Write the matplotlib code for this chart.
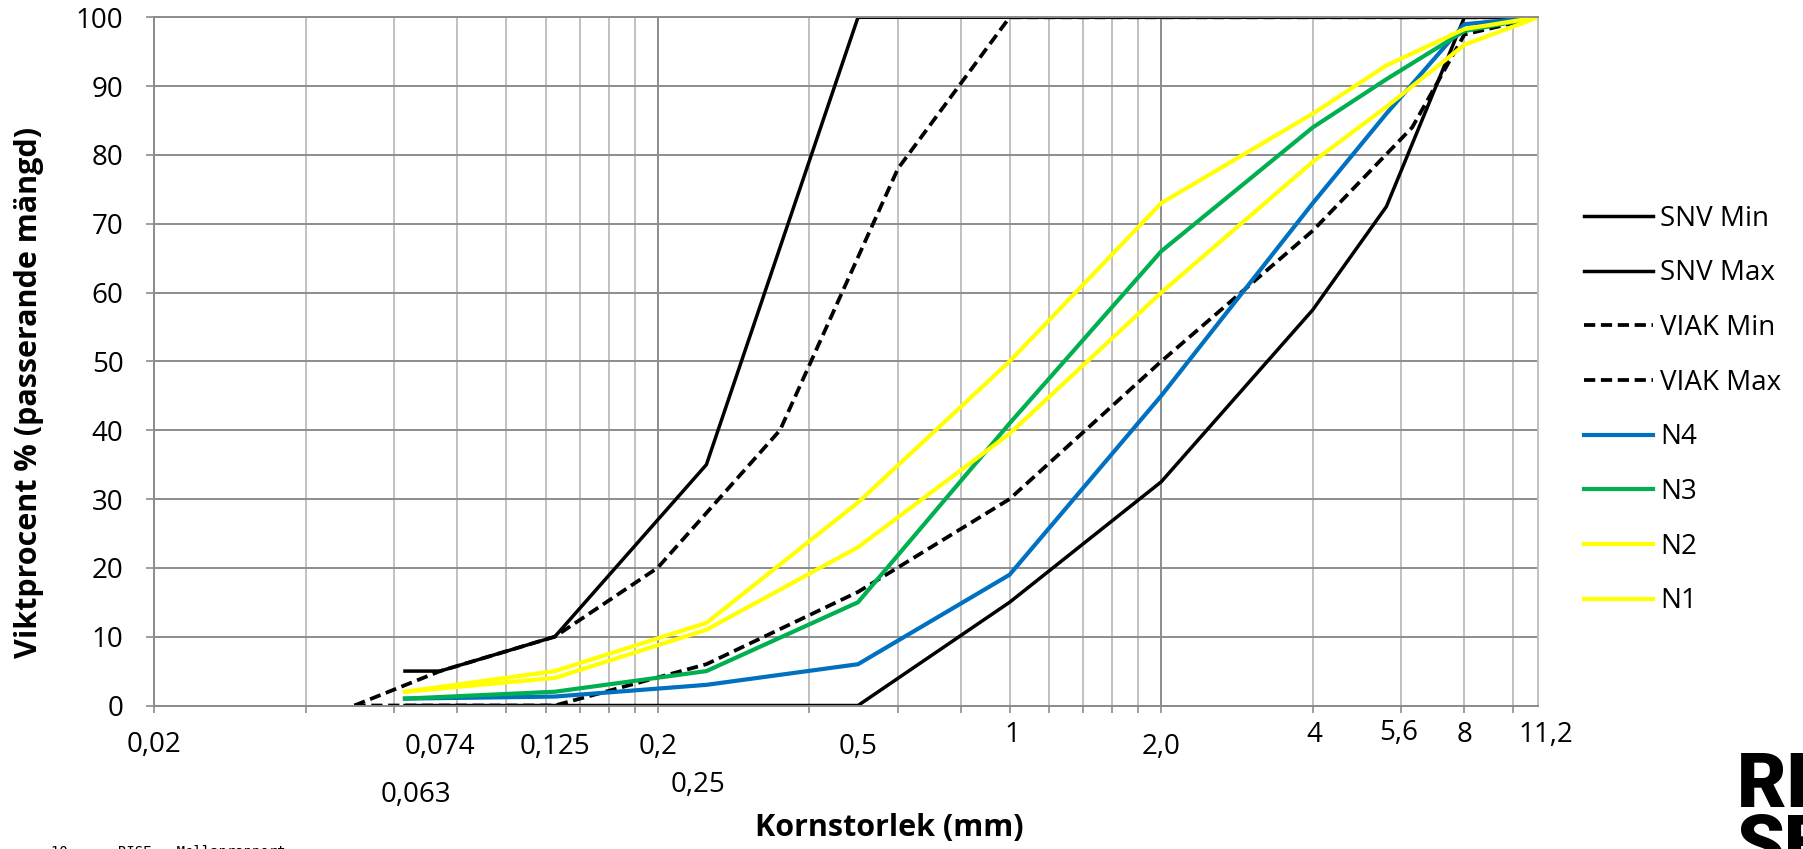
import numpy as np
import matplotlib.pyplot as plt
from matplotlib.ticker import FixedLocator, NullFormatter

# --- data ---
snv_x = [0.063, 0.074, 0.125, 0.25, 0.5, 1, 2, 4, 5.6, 8, 11.2]
snv_min = [0, 0, 0, 0, 0, 15, 32.5, 57.5, 72.5, 100, 100]
snv_max = [5, 5, 10, 35, 100, 100, 100, 100, 100, 100, 100]

viak_max_x = [0.05, 0.074, 0.125, 0.2, 0.35, 0.6, 1, 2, 4, 8, 11.2]
viak_max = [0, 5, 10, 20, 40, 78, 100, 100, 100, 100, 100]
viak_min_x = [0.05, 0.125, 0.25, 0.5, 1, 2, 4, 6.3, 8, 11.2]
viak_min = [0, 0, 6, 16.5, 30, 50, 69, 84, 97.5, 100]

prov_x = [0.063, 0.125, 0.25, 0.5, 1, 2, 4, 5.6, 8, 11.2]
n4 = [1, 1.3, 3, 6, 19, 45, 73, 86, 99, 100]
n3 = [1, 2, 5, 15, 41, 66, 84, 91, 98, 100]
n2 = [2, 5, 12, 29.5, 50, 73, 86, 93, 98.3, 100]
n1 = [2, 4, 11, 23, 39.5, 60, 79, 87, 96, 100]

# x tick labels as they appear under the axis
xlab_vals = [0.02, 0.074, 0.125, 0.2, 0.5, 1, 2.0, 4, 5.6, 8, 11.2, 0.063, 0.25]
xlab_text = ["0,02", "0,074", "0,125", "0,2", "0,5", "1", "2,0", "4", "5,6", "8", "11,2", "0,063", "0,25"]
# label offsets in pixels (dx, dy below axis)
xlab_off = [(0, 40), (0, 41), (0, 41), (0, 41), (0, 41), (3, 30), (0, 42), (2, 30),
            (12, 28), (0, 30), (8, 30), (11, 89), (-8, 80)]

yticks = list(range(0, 101, 10))

plt.rcParams['font.family'] = ['Open Sans', 'DejaVu Sans']

fig = plt.figure(figsize=(18.03, 8.49), dpi=100)
W, H = 1803, 849
ax = fig.add_axes([154 / W, 1 - 705.5 / H, (1538 - 154) / W, (705.5 - 17.3) / H])
ax.set_xscale('log')
ax.set_xlim(0.02, 11.2)
ax.set_ylim(0, 100)

# grid like excel: majors at 0.02, 0.2, 2 and minors at multiples
majors = [0.02, 0.2, 2.0]
minors = [m * k for m in majors for k in range(2, 10) if m * k <= 11.2 and m * k not in majors]
ax.xaxis.set_major_locator(FixedLocator(majors))
ax.xaxis.set_minor_locator(FixedLocator(minors))
ax.xaxis.set_major_formatter(NullFormatter())
ax.xaxis.set_minor_formatter(NullFormatter())
ax.set_yticks(yticks)
ax.set_yticklabels([str(v) for v in yticks], fontsize=20)

dark = '#8c8c8c'
light = '#c0c0c0'
ax.grid(which='major', axis='both', color=dark, lw=1.4)
ax.grid(which='minor', axis='x', color=light, lw=1.4)
ax.set_axisbelow(True)
ax.tick_params(axis='x', which='both', direction='out', length=5, width=1.2, color=dark)
ax.tick_params(axis='y', which='major', direction='out', length=6, width=1.2, color=dark, pad=16)
for s in ['left', 'bottom', 'top']:
    ax.spines[s].set_color(dark)
    ax.spines[s].set_linewidth(1.4)
ax.spines['right'].set_color(light)
ax.spines['right'].set_linewidth(1.4)

dash = (0, (3.0, 1.5))
ax.plot(snv_x, snv_min, color='black', lw=2.5, label='SNV Min')
ax.plot(snv_x, snv_max, color='black', lw=2.5, label='SNV Max')
ax.plot(viak_min_x, viak_min, color='black', lw=2.7, ls=dash, label='VIAK Min')
ax.plot(viak_max_x, viak_max, color='black', lw=2.7, ls=dash, label='VIAK Max')
ax.plot(prov_x, n4, color='#0070C0', lw=3.0, label='N4')
ax.plot(prov_x, n3, color='#00B050', lw=3.0, label='N3')
ax.plot(prov_x, n2, color='#FFFF00', lw=3.0, label='N2')
ax.plot(prov_x, n1, color='#FFFF00', lw=3.0, label='N1')

for v, t, (dx, dy) in zip(xlab_vals, xlab_text, xlab_off):
    ax.annotate(t, xy=(v, 0), xycoords=('data', 'axes fraction'),
                xytext=(dx, -dy), textcoords='offset pixels',
                ha='center', va='center', fontsize=20, annotation_clip=False)

ax.legend(loc='center left', bbox_to_anchor=(1584 / W, 1 - 410 / H),
          bbox_transform=fig.transFigure, frameon=False, fontsize=20,
          borderpad=0, borderaxespad=0, handlelength=2.5, handletextpad=0.25,
          labelspacing=0.96)

fig.text(29 / W, 1 - 392 / H, 'Viktprocent % (passerande mängd)', rotation=90,
         ha='center', va='center', fontsize=22, fontweight='bold')
fig.text(889 / W, 1 - 828 / H, 'Kornstorlek (mm)', ha='center', va='center',
         fontsize=22, fontweight='bold')

# footer and logo, both cut by the page edge
fig.text(51 / W, -7 / H, '10      RISE – Mellanrapport', family='DejaVu Sans Mono',
         fontsize=10, va='baseline', ha='left')
fig.text(1737 / W, 1 - 807 / H, 'RI', family=['Roboto', 'DejaVu Sans'], fontweight='black',
         fontsize=55, va='baseline', ha='left')
fig.text(1737 / W, 1 - 869 / H, 'SE', family=['Roboto', 'DejaVu Sans'], fontweight='black',
         fontsize=55, va='baseline', ha='left')

fig.savefig('out.png', dpi=100)
